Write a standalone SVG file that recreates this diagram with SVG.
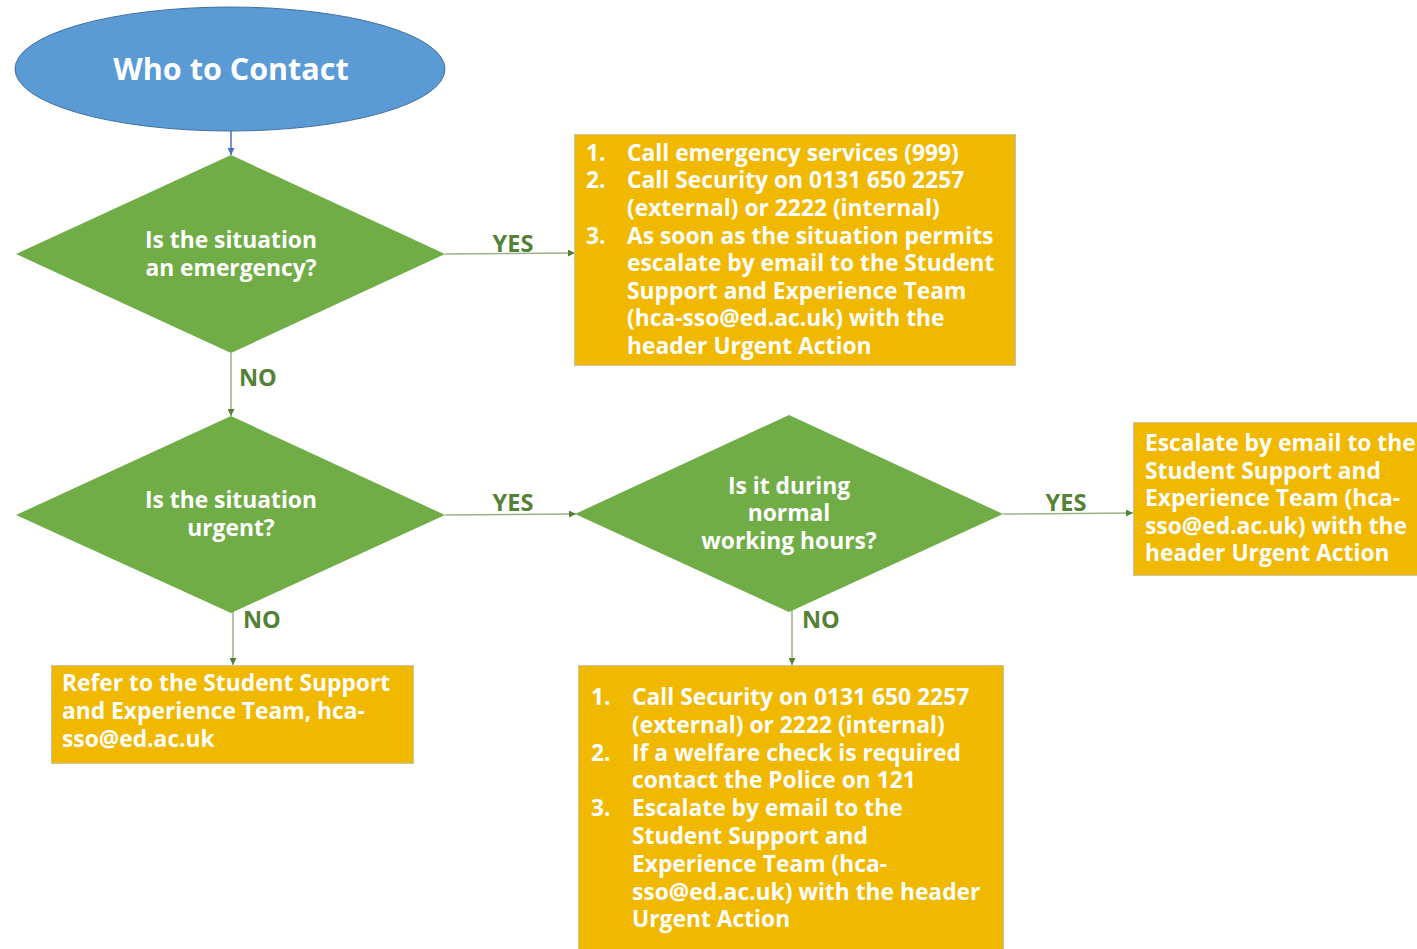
<svg xmlns="http://www.w3.org/2000/svg" width="1417" height="949" viewBox="0 0 1417 949">
  <style>
    .start { fill: #5B9BD5; stroke: #41719C; stroke-width: 1; }
    .decision { fill: #70AD47; }
    .action { fill: #F1B800; stroke: #C9C4B0; stroke-width: 1; }
    .txt { font-family: "Open Sans", Lato, sans-serif; font-weight: bold; fill: #FFFFFF; font-size: 22.8px; }
    .ctr { text-anchor: middle; }
    .title { font-size: 30.5px; }
    .lbl { font-family: "Open Sans", Lato, sans-serif; font-weight: bold; fill: #538135; font-size: 23.5px; }
    .link { fill: none; stroke: #9CB08A; stroke-width: 1.5; marker-end: url(#arrowGreen); }
    .linkBlue { fill: none; stroke: #4472C4; stroke-width: 1.5; marker-end: url(#arrowBlue); }
  </style>
  <defs>
    <marker id="arrowGreen" viewBox="0 0 10 10" refX="10" refY="5" markerWidth="7" markerHeight="7" markerUnits="userSpaceOnUse" orient="auto">
      <path d="M0,0 L10,5 L0,10 z" fill="#538135"/>
    </marker>
    <marker id="arrowBlue" viewBox="0 0 10 10" refX="10" refY="5" markerWidth="7" markerHeight="7" markerUnits="userSpaceOnUse" orient="auto">
      <path d="M0,0 L10,5 L0,10 z" fill="#4472C4"/>
    </marker>
  </defs>
  <rect width="1417" height="949" fill="#FFFFFF"/>

  <!-- connectors -->
  <g id="connectors">
    <line class="linkBlue" x1="231" y1="131" x2="231" y2="155"/>
    <line class="link" x1="445" y1="254" x2="575" y2="253"/>
    <text class="lbl ctr" x="513" y="252">YES</text>
    <line class="link" x1="231" y1="353" x2="231" y2="416"/>
    <text class="lbl" x="239" y="386">NO</text>
    <line class="link" x1="445" y1="515" x2="576" y2="514"/>
    <text class="lbl ctr" x="513" y="511">YES</text>
    <line class="link" x1="1003" y1="514" x2="1133" y2="513"/>
    <text class="lbl ctr" x="1066" y="511">YES</text>
    <line class="link" x1="233" y1="602" x2="233" y2="665"/>
    <text class="lbl" x="243" y="628">NO</text>
    <line class="link" x1="792" y1="602" x2="792" y2="665"/>
    <text class="lbl" x="802" y="628">NO</text>
  </g>

  <!-- start -->
  <g id="start">
    <ellipse class="start" cx="230" cy="69" rx="215" ry="62"/>
    <text class="txt title ctr" x="231" y="80">Who to Contact</text>
  </g>

  <!-- decision: emergency -->
  <g id="q-emergency">
    <polygon class="decision" points="231,155 445,254 231,353 16,254"/>
    <text class="txt ctr" x="231" y="248">Is the situation</text>
    <text class="txt ctr" x="231" y="276">an emergency?</text>
  </g>

  <!-- action: emergency steps -->
  <g id="a-emergency">
    <rect class="action" x="574.5" y="134.5" width="441" height="231"/>
    <g class="txt">
      <text x="586" y="161">1.</text><text x="627" y="161">Call emergency services (999)</text>
      <text x="586" y="188">2.</text><text x="627" y="188">Call Security on 0131 650 2257</text>
      <text x="627" y="216">(external) or 2222 (internal)</text>
      <text x="586" y="244">3.</text><text x="627" y="244">As soon as the situation permits</text>
      <text x="627" y="271">escalate by email to the Student</text>
      <text x="627" y="299">Support and Experience Team</text>
      <text x="627" y="326">(hca-sso@ed.ac.uk) with the</text>
      <text x="627" y="354">header Urgent Action</text>
    </g>
  </g>

  <!-- decision: urgent -->
  <g id="q-urgent">
    <polygon class="decision" points="231,416 445,515 231,613 16,515"/>
    <text class="txt ctr" x="231" y="508">Is the situation</text>
    <text class="txt ctr" x="231" y="536">urgent?</text>
  </g>

  <!-- decision: working hours -->
  <g id="q-hours">
    <polygon class="decision" points="789,415 1003,514 789,612 575,514"/>
    <text class="txt ctr" x="789" y="494">Is it during</text>
    <text class="txt ctr" x="789" y="521">normal</text>
    <text class="txt ctr" x="789" y="549">working hours?</text>
  </g>

  <!-- action: in hours -->
  <g id="a-hours">
    <rect class="action" x="1133.5" y="422.5" width="285" height="153"/>
    <g class="txt">
      <text x="1145" y="451">Escalate by email to the</text>
      <text x="1145" y="479">Student Support and</text>
      <text x="1145" y="506">Experience Team (hca-</text>
      <text x="1145" y="534">sso@ed.ac.uk) with the</text>
      <text x="1145" y="561">header Urgent Action</text>
    </g>
  </g>

  <!-- action: not urgent -->
  <g id="a-refer">
    <rect class="action" x="51.5" y="665.5" width="362" height="98"/>
    <g class="txt">
      <text x="62" y="691">Refer to the Student Support</text>
      <text x="62" y="719">and Experience Team, hca-</text>
      <text x="62" y="747">sso@ed.ac.uk</text>
    </g>
  </g>

  <!-- action: out of hours -->
  <g id="a-out-of-hours">
    <rect class="action" x="578.5" y="665.5" width="425" height="290"/>
    <g class="txt">
      <text x="591" y="705">1.</text><text x="632" y="705">Call Security on 0131 650 2257</text>
      <text x="632" y="733">(external) or 2222 (internal)</text>
      <text x="591" y="761">2.</text><text x="632" y="761">If a welfare check is required</text>
      <text x="632" y="788">contact the Police on 121</text>
      <text x="591" y="816">3.</text><text x="632" y="816">Escalate by email to the</text>
      <text x="632" y="844">Student Support and</text>
      <text x="632" y="872">Experience Team (hca-</text>
      <text x="632" y="900">sso@ed.ac.uk) with the header</text>
      <text x="632" y="927">Urgent Action</text>
    </g>
  </g>
</svg>
